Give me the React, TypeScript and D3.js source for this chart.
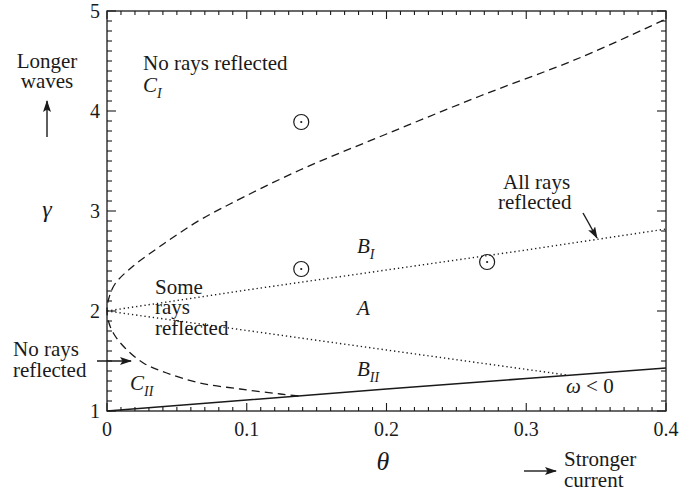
import React from "react";
import * as d3 from "d3";

// θ–γ regime diagram for ray reflection on a current
const thetaDomain = [0, 0.4];
const gammaDomain = [1, 5];
const thetaLabels = [0, 0.1, 0.2, 0.3, 0.4];
const gammaLabels = [1, 2, 3, 4, 5];

// Dashed boundary of the C regions (lower branch, through (0,2), upper branch)
const boundaryTheta = [0.137, 0.124, 0.0952, 0.0665, 0.0427, 0.026, 0.0129, 0.0045, 0.001, 0, 0.001, 0.0057, 0.0188, 0.0343, 0.0487, 0.0665, 0.088, 0.138, 0.2, 0.267, 0.338, 0.4];
const boundaryGamma = [1.15, 1.17, 1.22, 1.28, 1.38, 1.48, 1.63, 1.78, 1.9, 2, 2.11, 2.27, 2.45, 2.61, 2.75, 2.91, 3.07, 3.41, 3.77, 4.15, 4.53, 4.92];

// Dotted upper edge of region A
const upperDotTheta = [0, 0.1, 0.2, 0.3, 0.4];
const upperDotGamma = [2, 2.21, 2.41, 2.61, 2.82];

// Dotted lower edge of region A
const lowerDotTheta = [0, 0.1, 0.2, 0.329];
const lowerDotGamma = [2, 1.805, 1.61, 1.36];

// Solid ω = 0 line
const solidTheta = [0, 0.1, 0.2, 0.3, 0.4];
const solidGamma = [1, 1.11, 1.22, 1.325, 1.43];

// Marked sample cases
const caseTheta = [0.139, 0.139, 0.272];
const caseGamma = [3.89, 2.42, 2.49];

const W = 680;
const H = 495;
const left = 107, right = 666, top = 11, bottom = 411;
const FONT = "'Liberation Serif', 'Times New Roman', Tinos, 'DejaVu Serif', serif";
const INK = "#1a1a1a";

export default function App() {
  const x = d3.scaleLinear().domain(thetaDomain).range([left, right]);
  const y = d3.scaleLinear().domain(gammaDomain).range([bottom, top]);

  const line = d3
    .line<[number, number]>()
    .x((d) => x(d[0]))
    .y((d) => y(d[1]));
  const smooth = d3
    .line<[number, number]>()
    .x((d) => x(d[0]))
    .y((d) => y(d[1]))
    .curve(d3.curveCatmullRom.alpha(0.5));

  const zip = (a: number[], b: number[]) => a.map((v, i) => [v, b[i]] as [number, number]);

  const xMinor = d3.range(0, 41).map((i) => i / 100);
  const yMinor = d3.range(0, 41).map((i) => 1 + i / 10);
  const isMajorX = (v: number) => Math.abs(v * 10 - Math.round(v * 10)) < 1e-6;
  const isMajorY = (v: number) => Math.abs(v - Math.round(v)) < 1e-6;

  const ticks: JSX.Element[] = [];
  xMinor.forEach((v, i) => {
    const len = isMajorX(v) ? 8 : 4;
    const px = x(v);
    ticks.push(<line key={"xb" + i} x1={px} x2={px} y1={bottom} y2={bottom - len} />);
    ticks.push(<line key={"xt" + i} x1={px} x2={px} y1={top} y2={top + len} />);
  });
  yMinor.forEach((v, i) => {
    const len = isMajorY(v) ? 9 : 5;
    const py = y(v);
    ticks.push(<line key={"yl" + i} x1={left} x2={left + len} y1={py} y2={py} />);
    ticks.push(<line key={"yr" + i} x1={right} x2={right - len} y1={py} y2={py} />);
  });

  const fmt = (v: number) => (v === 0 ? "0" : String(v));
  const textStyle = { fontFamily: FONT };

  return (
    <svg
      width={W}
      height={H}
      viewBox={`0 0 ${W} ${H}`}
      style={{ position: "absolute", left: 0, top: 0, background: "#fff", fontFamily: FONT }}
    >
      <defs>
        <marker id="head" viewBox="0 0 12 8" markerWidth={12} markerHeight={8} refX={11} refY={4} orient="auto" markerUnits="userSpaceOnUse">
          <path d="M0,0 L12,4 L0,8 L2.5,4 z" fill={INK} />
        </marker>
      </defs>
      <rect x={0} y={0} width={W} height={H} fill="#fff" />

      {/* frame and ticks */}
      <g stroke={INK} strokeWidth={1.1} fill="none">
        <rect x={left} y={top} width={right - left} height={bottom - top} strokeWidth={1.3} />
        {ticks}
      </g>

      {/* tick labels */}
      <g fill={INK} fontSize={20} style={textStyle}>
        {thetaLabels.map((v) => (
          <text key={"tx" + v} x={x(v)} y={436} textAnchor="middle">
            {fmt(v)}
          </text>
        ))}
        {gammaLabels.map((v) => (
          <text key={"ty" + v} x={100} y={y(v) + 7} textAnchor="end">
            {v}
          </text>
        ))}
      </g>

      {/* curves */}
      <path d={smooth(zip(boundaryTheta, boundaryGamma)) || ""} fill="none" stroke={INK} strokeWidth={1.3} strokeDasharray="8,5" />
      <path d={line(zip(upperDotTheta, upperDotGamma)) || ""} fill="none" stroke={INK} strokeWidth={1.4} strokeDasharray="1.3,2.9" />
      <path d={line(zip(lowerDotTheta, lowerDotGamma)) || ""} fill="none" stroke={INK} strokeWidth={1.4} strokeDasharray="1.3,2.9" />
      <path d={line(zip(solidTheta, solidGamma)) || ""} fill="none" stroke={INK} strokeWidth={1.6} />

      {/* sample cases */}
      {caseTheta.map((t, i) => (
        <g key={"c" + i}>
          <circle cx={x(t)} cy={y(caseGamma[i])} r={7.5} fill="none" stroke={INK} strokeWidth={1.2} />
          <circle cx={x(t)} cy={y(caseGamma[i])} r={1.1} fill={INK} />
        </g>
      ))}

      {/* axis titles */}
      <text x={383} y={470} textAnchor="middle" fontSize={26} fontStyle="italic" fill={INK} style={textStyle}>θ</text>
      <text x={47} y={217} textAnchor="middle" fontSize={24} fontStyle="italic" fill={INK} style={textStyle}>γ</text>

      {/* annotations */}
      <g fill={INK} fontSize={21} style={textStyle}>
        <text x={47} y={68} textAnchor="middle">Longer</text>
        <text x={47} y={88} textAnchor="middle">waves</text>

        <text x={143} y={70}>No rays reflected</text>
        <text x={143} y={92} fontStyle="italic">C<tspan fontSize={14} dy={6}>I</tspan></text>

        <text x={503} y={189}>All rays</text>
        <text x={498} y={209}>reflected</text>

        <text x={155} y={294}>Some</text>
        <text x={155} y={314}>rays</text>
        <text x={155} y={335}>reflected</text>

        <text x={13} y={356}>No rays</text>
        <text x={13} y={377}>reflected</text>

        <text x={130} y={390} fontStyle="italic">C<tspan fontSize={14} dy={6}>II</tspan></text>
        <text x={357} y={253} fontStyle="italic">B<tspan fontSize={14} dy={6}>I</tspan></text>
        <text x={357} y={315} fontStyle="italic">A</text>
        <text x={357} y={376} fontStyle="italic">B<tspan fontSize={14} dy={6}>II</tspan></text>
        <text x={566} y={393}><tspan fontStyle="italic">ω</tspan> &lt; 0</text>

        <text x={564} y={466}>Stronger</text>
        <text x={564} y={487}>current</text>
      </g>

      {/* arrows */}
      <g stroke={INK} strokeWidth={1.4} fill="none">
        <line x1={47} y1={137} x2={47} y2={101} markerEnd="url(#head)" />
        <line x1={97} y1={361} x2={131} y2={361} markerEnd="url(#head)" />
        <line x1={524} y1={471} x2={556} y2={471} markerEnd="url(#head)" />
        <line x1={583} y1={213} x2={597} y2={238} markerEnd="url(#head)" />
      </g>
    </svg>
  );
}
